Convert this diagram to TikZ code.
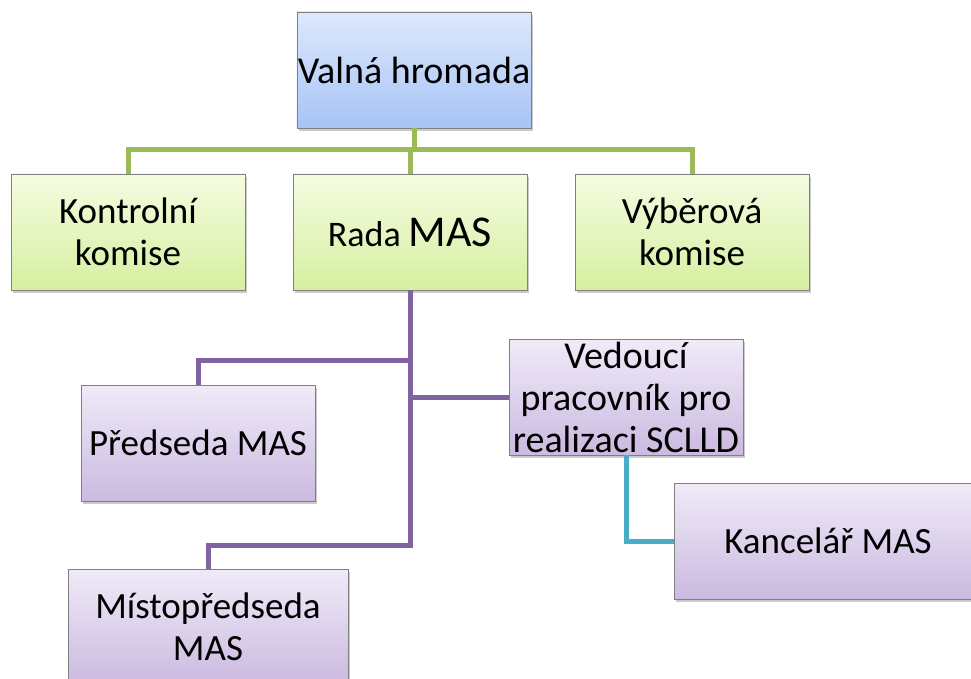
\documentclass[tikz,border=0pt]{standalone}
\usepackage{fontspec}
\setmainfont{Carlito}
\usepackage{tikz}
\usetikzlibrary{positioning,shadows}
\usepackage{xcolor}
\definecolor{blueTop}{RGB}{222,232,252}
\definecolor{blueBot}{RGB}{166,196,246}
\definecolor{greenTop}{RGB}{245,252,226}
\definecolor{greenBot}{RGB}{214,239,160}
\definecolor{purpleTop}{RGB}{240,234,248}
\definecolor{purpleBot}{RGB}{202,186,224}
\definecolor{boxLine}{RGB}{128,128,128}
\definecolor{greenLine}{RGB}{155,187,89}
\definecolor{purpleLine}{RGB}{128,100,162}
\definecolor{tealLine}{RGB}{75,172,198}

\begin{document}
\begin{tikzpicture}
[x=1pt,y=-1pt,
Box/.style={rectangle,draw=boxLine,thin,shading=axis,align=center,
  minimum width=234pt, minimum height=116pt,inner sep=1pt,
  font=\fontsize{37}{42}\selectfont,
  drop shadow={shadow xshift=2pt,shadow yshift=-3pt,opacity=0.35,fill=black!60}},
TopNode/.style={Box,top color=blueTop,bottom color=blueBot,font=\fontsize{38}{44}\selectfont},
L1Node/.style={Box,top color=greenTop,bottom color=greenBot},
L2Node/.style={Box,top color=purpleTop,bottom color=purpleBot},
GreenLine/.style={draw=greenLine,line width=5pt},
PurpleLine/.style={draw=purpleLine,line width=5pt},
TealLine/.style={draw=tealLine,line width=5pt}]

\clip (0,0) rectangle (971,679);

% Valna hromada
\node[TopNode] (valna) at (414, 70) {Valná hromada};

% komise a rada
\node[L1Node] (kontrol) at (128, 232) {Kontrolní\\komise};
\node[L1Node, font=\fontsize{36}{42}\selectfont] (rada) at (410, 232) {Rada {\fontsize{44}{48}\selectfont MAS}};
\node[L1Node] (vyber) at (692, 232) {Výběrová\\komise};

% pod radou
\node[L2Node] (predseda) at (198, 443) {Předseda MAS};
\node[L2Node, inner sep=0pt, font=\fontsize{38}{42}\selectfont] (vedouci) at (626, 397) {Vedoucí\\pracovník pro\\realizaci SCLLD};
\node[L2Node, minimum width=280pt] (misto) at (208, 627) {Místopředseda\\MAS};
\node[L2Node, minimum width=308pt] (kancel) at (828, 541) {Kancelář MAS};

% spojnice
\coordinate (gbus) at (414, 150);
\coordinate (pjoin) at (410, 360);
\coordinate (pbot) at (410, 545);

\draw[GreenLine] (valna.south) -- (valna.south |- gbus);
\draw[GreenLine] (kontrol.north) |- (vyber.north |- gbus) -- (vyber.north);
\draw[GreenLine] (rada.north) -- (rada.north |- gbus);

\draw[PurpleLine] (rada.south) -- (pbot) -| (misto.north);
\draw[PurpleLine] (pjoin) -| (predseda.north);
\draw[PurpleLine] (vedouci.west) -- (vedouci.west -| rada.south);

\draw[TealLine] (vedouci.south) |- (kancel.west);

\end{tikzpicture}
\end{document}
